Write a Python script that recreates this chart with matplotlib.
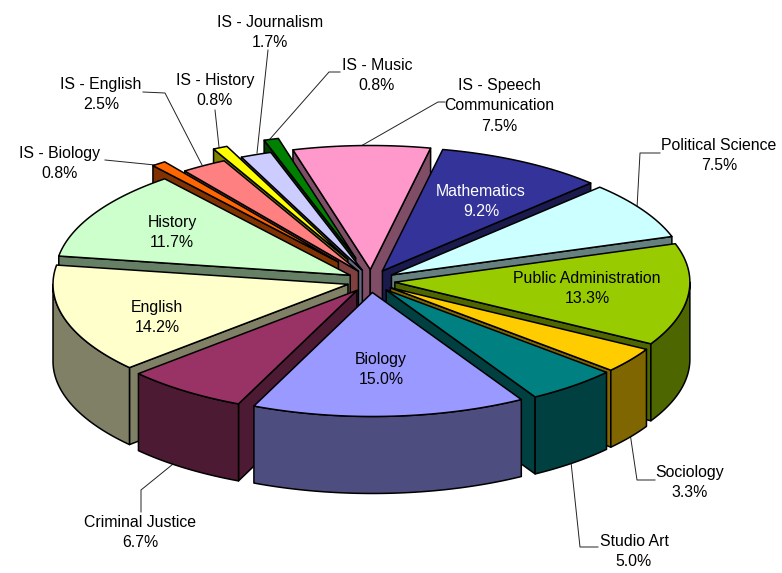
import numpy as np
import matplotlib
matplotlib.use("Agg")
import matplotlib.pyplot as plt
from matplotlib.patches import Polygon

categories = ["Mathematics", "Political Science", "Public Administration", "Sociology",
              "Studio Art", "Biology", "Criminal Justice", "English", "History",
              "IS - Biology", "IS - English", "IS - History", "IS - Journalism",
              "IS - Music", "IS - Speech\nCommunication"]
values = [9.2, 7.5, 13.3, 3.3, 5.0, 15.0, 6.7, 14.2, 11.7, 0.8, 2.5, 0.8, 1.7, 0.8, 7.5]
extra_explode = [0, 0, 0, 0, 0, 0, 0, 0, 0, 0.1, 0, 0.1, 0, 0.1, 0]
top_colors = ["#333399", "#CCFFFF", "#99CC00", "#FFCC00", "#008080", "#9999FF", "#993366",
              "#FFFFCC", "#CCFFCC", "#FF6600", "#FF8080", "#FFFF00", "#CCCCFF", "#008000", "#FF99CC"]
side_colors = ["#1A1A4D", "#668080", "#4D6600", "#806600", "#004040", "#4D4D80", "#4D1A33",
               "#808066", "#668066", "#803300", "#804040", "#808000", "#666680", "#004000", "#804D66"]
label_pos = [(481, 201.5), (719, 155.5), (587, 288.5), (690, 482.5), (634, 551.5), (381, 369.5), (140, 532.5),
             (157, 317.5), (172, 232.5), (60, 163.5), (101, 94.5), (215, 90.5), (270, 32.5), (377, 75.5), (499, 106)]
leaders = {
    "Political Science": [(637, 208), (640, 153), (660, 153)],
    "Sociology": [(630, 433), (637, 480), (655, 480)],
    "Studio Art": [(571, 462), (580, 547), (598, 547)],
    "Criminal Justice": [(178, 460), (141, 490), (141, 512)],
    "IS - Biology": [(105, 160), (155, 165)],
    "IS - English": [(143, 92), (165, 93), (202, 165)],
    "IS - History": [(215, 110), (219, 147)],
    "IS - Journalism": [(268, 50), (257, 153)],
    "IS - Music": [(340, 72), (329, 72), (270, 139)],
    "IS - Speech\nCommunication": [(445, 102), (438, 102), (361, 146)],
}

CX, CY = 371, 281
RX, RY = 295, 124
EX, EY = 24, 11.5
DEPTH = 77
START = 11.8
EDGE = "#000000"

fig = plt.figure(figsize=(7.82, 5.73), dpi=100)
ax = fig.add_axes([0, 0, 1, 1])
ax.set_xlim(0, 782)
ax.set_ylim(573, 0)
ax.axis("off")

vals = np.array(values, dtype=float)
edges = START + 360 * np.concatenate([[0], np.cumsum(vals)]) / vals.sum()


def pt(theta, ox, oy, r=1.0):
    t = np.radians(theta)
    return np.column_stack([ox + r * RX * np.sin(t), oy - r * RY * np.cos(t)])


mids = (edges[:-1] + edges[1:]) / 2
order = np.argsort(-np.cos(np.radians(mids)))
z = 2
for i in order:
    a, b, m = edges[i], edges[i + 1], np.radians(mids[i])
    ox = CX + (EX + extra_explode[i] * RX) * np.sin(m)
    oy = CY - (EY + extra_explode[i] * RY) * np.cos(m)
    tip = np.array([[ox, oy]])
    drop = np.array([0, DEPTH])
    style = dict(facecolor=side_colors[i], edgecolor=EDGE, linewidth=1.1, joinstyle="round")
    # radial cut faces that look towards the viewer
    for th, visible in ((a, np.sin(np.radians(a)) < 0), (b, np.sin(np.radians(b)) > 0)):
        if visible:
            c = pt(th, ox, oy)
            ax.add_patch(Polygon(np.vstack([tip, c, c + drop, tip + drop]), zorder=z, **style))
            z += 1
    # outer curved wall (front half of the rim only)
    lo, hi = max(a, 90), min(b, 270)
    if lo < hi:
        arc = pt(np.linspace(lo, hi, 60), ox, oy)
        ax.add_patch(Polygon(np.vstack([arc, (arc + drop)[::-1]]), zorder=z, **style))
        z += 1
    # top face
    arc = pt(np.linspace(a, b, 80), ox, oy)
    ax.add_patch(Polygon(np.vstack([tip, arc]), facecolor=top_colors[i], edgecolor=EDGE,
                         linewidth=1.1, joinstyle="round", zorder=z))
    z += 1

for name, pts in leaders.items():
    xs, ys = zip(*pts)
    ax.plot(xs, ys, color="#222222", lw=0.7, zorder=1)

for i, name in enumerate(categories):
    color = "white" if name == "Mathematics" else "black"
    ax.text(label_pos[i][0], label_pos[i][1], f"{name}\n{values[i]:.1f}%", ha="center", va="center",
            family="Liberation Sans", fontsize=11.4, color=color, linespacing=1.45, zorder=500)

fig.savefig("out.png", dpi=100, facecolor="white")
